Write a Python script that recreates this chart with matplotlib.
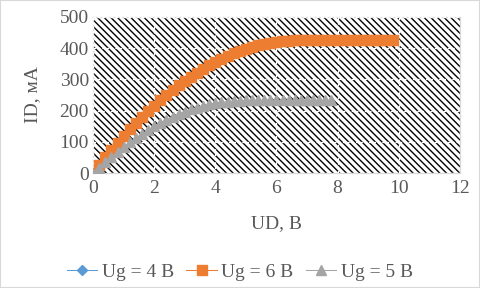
import numpy as np
import matplotlib.pyplot as plt
from matplotlib.patches import Rectangle

plt.rcParams['font.family'] = ['Liberation Serif', 'DejaVu Serif']
plt.rcParams['hatch.linewidth'] = 1.0

TEXT = '#595959'
GRID = '#d9d9d9'

# Ug = 4 B (nothing visible in the chart)
ud_4 = [0.0]
id_4 = [0]

# Ug = 6 B
ud_6 = [0.0, 0.2, 0.4, 0.6, 0.8, 1.0, 1.2, 1.4, 1.6, 1.8,
        2.0, 2.2, 2.4, 2.6, 2.8, 3.0, 3.2, 3.4, 3.6, 3.8,
        4.0, 4.2, 4.4, 4.6, 4.8, 5.0, 5.2, 5.4, 5.6, 5.8,
        6.0, 6.2, 6.4, 6.6, 6.8, 7.0, 7.2, 7.4, 7.6, 7.8,
        8.0, 8.2, 8.4, 8.6, 8.8, 9.0, 9.2, 9.4, 9.6, 9.8]
id_6 = [0, 25, 50, 74, 97, 119, 140, 161, 181, 199,
        216, 233, 250, 266, 281, 296, 309, 322, 334, 346,
        357, 367, 376, 385, 392, 399, 405, 410, 414, 418,
        420, 422, 424, 425, 425, 425, 425, 425, 425, 425,
        425, 425, 425, 425, 425, 425, 425, 425, 425, 425]

# Ug = 5 B
ud_5 = [0.0, 0.2, 0.4, 0.6, 0.8, 1.0, 1.2, 1.4, 1.6, 1.8,
        2.0, 2.2, 2.4, 2.6, 2.8, 3.0, 3.2, 3.4, 3.6, 3.8,
        4.0, 4.2, 4.4, 4.6, 4.8, 5.0, 5.2, 5.4, 5.6, 5.8,
        6.0, 6.2, 6.4, 6.6, 6.8, 7.0, 7.2, 7.4, 7.6, 7.8]
id_5 = [0, 16, 34, 51, 67, 83, 98, 112, 125, 138,
        150, 161, 171, 180, 189, 197, 204, 210, 215, 220,
        224, 227, 229, 231, 232, 233, 233, 233, 233, 233,
        233, 233, 233, 233, 233, 233, 233, 233, 233, 233]

fig = plt.figure(figsize=(4.8, 2.88), dpi=100)
ax = fig.add_axes([0.194, 0.399, 0.764, 0.542])

# hatched plot area
bg = Rectangle((0, 0), 1, 1, transform=ax.transAxes, facecolor='white',
               edgecolor='black', hatch='\\' * 5, linewidth=0, zorder=0)
ax.add_patch(bg)

ax.plot(ud_4, id_4, color='#5B9BD5', lw=0.75, marker='D', ms=5.5,
        label='Ug = 4 B', zorder=3)
ax.plot(ud_6, id_6, color='#ED7D31', lw=0.75, marker='s', ms=6.5,
        label='Ug = 6 B', zorder=3)
ax.plot(ud_5, id_5, color='#A5A5A5', lw=0.75, marker='^', ms=6.5,
        label='Ug = 5 B', zorder=4)

ax.set_xlim(0, 12)
ax.set_ylim(0, 500)
ax.set_xticks(np.arange(0, 13, 2))
ax.set_yticks(np.arange(0, 501, 100))
ax.grid(True, color='white', lw=0.9, ls=(0, (2, 1.5)), zorder=2)
ax.set_axisbelow(False)
ax.tick_params(length=0, labelsize=14, labelcolor=TEXT)
ax.tick_params(axis='x', pad=5)
ax.tick_params(axis='y', pad=3)
for s in ax.spines.values():
    s.set_color(GRID)
    s.set_linewidth(0.9)

ax.set_xlabel('UD, B', fontsize=14, color=TEXT, labelpad=13)
ax.set_ylabel('ID, мА', fontsize=14, color=TEXT, labelpad=13)

fig.legend(loc='center', bbox_to_anchor=(0.5, 0.055), ncol=3, frameon=False,
           fontsize=14, labelcolor=TEXT, handlelength=1.55, columnspacing=0.65,
           handletextpad=0.25)

fig.patches.append(Rectangle((0, 0), 1, 1, transform=fig.transFigure,
                             fill=False, edgecolor=GRID, lw=1.5))

fig.savefig('out.png', dpi=100)
